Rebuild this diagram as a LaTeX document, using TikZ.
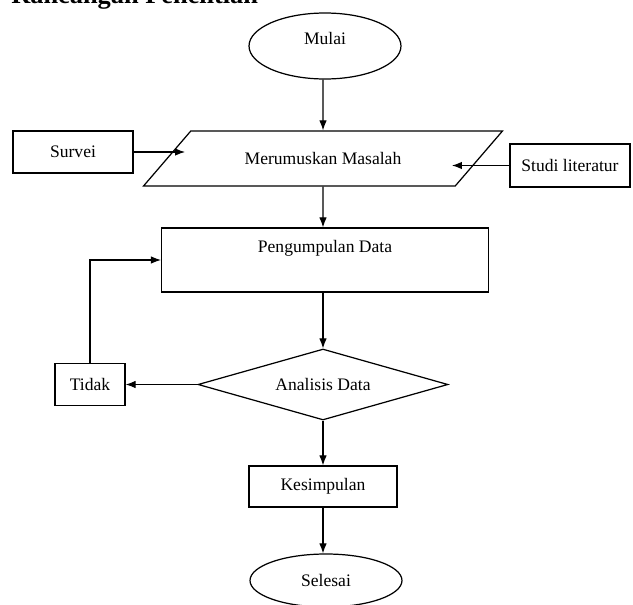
\documentclass[tikz,border=0pt]{standalone}
\usepackage{fontspec}
\setmainfont{Liberation Serif}
\usetikzlibrary{shapes.geometric,arrows.meta}

\begin{document}
\begin{tikzpicture}[x=0.02cm,y=-0.02cm,>={Latex[length=2mm,width=1.5mm]},
    kotak/.style={rectangle,draw,line width=0.7pt,inner sep=2pt},
    oval/.style={ellipse,draw,line width=0.7pt,inner sep=2pt,minimum width=3.04cm,minimum height=1.32cm,text depth=0.3cm},
    panah/.style={->,line width=0.6pt}]
    \useasboundingbox (0,0) rectangle (633,605);

    % Judul (terpotong di atas)
    \node[anchor=base west,inner sep=0pt,font=\fontsize{15}{18}\selectfont\bfseries] (judul) at (11,4) {Rancangan Penelitian};

    % Mulai
    \node[oval] (mulai) at (325,46) {Mulai};

    % Merumuskan masalah
    \node[trapezium,draw,line width=0.7pt,trapezium left angle=27,trapezium right angle=153,trapezium stretches body,minimum width=7.18cm,minimum height=1.1cm] (rumus) at (323,158.5) {Merumuskan Masalah};

    % Masukan samping
    \node[kotak,minimum width=2.4cm,minimum height=0.84cm] (survei) at (73,152) {Survei};
    \node[kotak,minimum width=2.4cm,minimum height=0.86cm] (studi) at (570,165.5) {Studi literatur};

    % Pengumpulan data
    \node[kotak,minimum width=6.54cm,minimum height=1.28cm,text depth=0.55cm] (data) at (325,260) {Pengumpulan Data};

    % Analisis
    \node[diamond,draw,line width=0.7pt,aspect=3.5,inner sep=1pt,minimum width=5cm,minimum height=1.42cm] (analisis) at (323,384.5) {Analisis Data};
    \node[kotak,minimum width=1.4cm,minimum height=0.84cm] (tidak) at (90,384.5) {Tidak};

    % Akhir
    \node[kotak,minimum width=2.96cm,minimum height=0.82cm] (simpulan) at (323,486.5) {Kesimpulan};
    \node[oval,minimum height=1.06cm,text depth=0pt] (selesai) at (326,580.5) {Selesai};

    % Panah
    \draw[panah] (mulai.south -| rumus) -- (rumus.north);
    \draw[panah] (survei) -- ([xshift=-2.76cm]survei -| rumus);
    \draw[panah] (studi) -- ([xshift=2.58cm]studi -| rumus);
    \draw[panah] (rumus) -- (rumus |- data.north);
    \draw[panah] (data.south -| analisis) -- (analisis);
    \draw[panah] (analisis) -- (tidak);
    \draw[panah] (tidak) |- (data.west);
    \draw[panah] (analisis) -- (simpulan);
    \draw[panah] (simpulan) -- (simpulan |- selesai.north);
\end{tikzpicture}
\end{document}
